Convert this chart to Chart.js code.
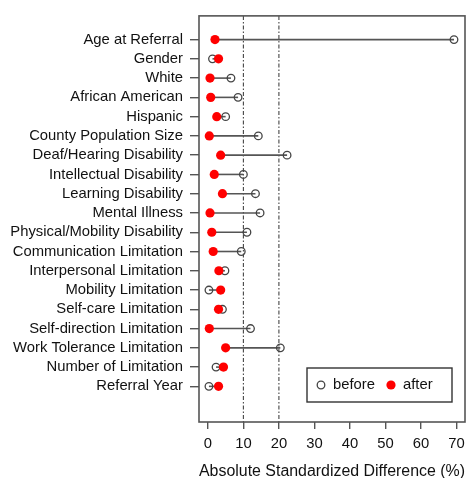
<!DOCTYPE html>
<html>
<head>
<meta charset="utf-8">
<script src="https://cdn.jsdelivr.net/npm/chart.js@4/dist/chart.umd.min.js"></script>
<style>
  html, body { margin: 0; padding: 0; background: #fff; }
  #wrap { width: 471px; height: 478px; }
</style>
</head>
<body>
<div id="wrap"><canvas id="myChart"></canvas></div>
<script>
const categories = [
  'Age at Referral', 'Gender', 'White', 'African American', 'Hispanic',
  'County Population Size', 'Deaf/Hearing Disability', 'Intellectual Disability',
  'Learning Disability', 'Mental Illness', 'Physical/Mobility Disability',
  'Communication Limitation', 'Interpersonal Limitation', 'Mobility Limitation',
  'Self-care Limitation', 'Self-direction Limitation', 'Work Tolerance Limitation',
  'Number of Limitation', 'Referral Year'
];
const beforeVals = [69.3, 1.3, 6.5, 8.5, 5.0, 14.2, 22.3, 10.0, 13.4, 14.7, 11.0, 9.4, 4.8, 0.3, 4.1, 12.0, 20.4, 2.3, 0.3];
const afterVals = [2.0, 3.0, 0.6, 0.8, 2.5, 0.4, 3.6, 1.8, 4.1, 0.6, 1.1, 1.5, 3.1, 3.6, 3.0, 0.4, 5.0, 4.4, 3.0];
const xTicks = [0, 10, 20, 30, 40, 50, 60, 70];
const refLines = [10, 20];

const yMin = -1.23, yMax = 19.85;
const axisColor = '#555';
const textColor = '#111';
const font = 'Liberation Sans, Arial, sans-serif';

const ctx = document.getElementById('myChart').getContext('2d');

const datasets = [];

datasets.push({
  label: 'after',
  type: 'scatter',
  order: 0,
  data: afterVals.map((v, i) => ({ x: v, y: i })),
  pointRadius: 4.6,
  pointBackgroundColor: '#ff0000',
  pointBorderWidth: 0,
  pointHoverRadius: 4.6
});

datasets.push({
  label: 'before',
  type: 'scatter',
  order: 1,
  data: beforeVals.map((v, i) => ({ x: v, y: i })),
  pointRadius: 3.8,
  pointBackgroundColor: 'rgba(0,0,0,0)',
  pointBorderColor: '#444',
  pointBorderWidth: 1.3,
  pointHoverRadius: 3.8
});

// segments joining before and after
categories.forEach((c, i) => {
  datasets.push({
    label: c,
    type: 'line',
    order: 2,
    data: [{ x: beforeVals[i], y: i }, { x: afterVals[i], y: i }],
    borderColor: '#555',
    borderWidth: 1.6,
    pointRadius: 0
  });
});

// dash-dot reference lines
refLines.forEach(r => {
  datasets.push({
    label: 'ref' + r,
    type: 'line',
    order: 3,
    data: [{ x: r, y: yMin }, { x: r, y: yMax }],
    borderColor: '#444',
    borderWidth: 1.1,
    borderDash: [4, 2, 1.5, 2],
    pointRadius: 0
  });
});

const boxPlugin = {
  id: 'box',
  afterDraw(chart) {
    const a = chart.chartArea;
    const c = chart.ctx;
    c.save();
    c.strokeStyle = axisColor;
    c.lineWidth = 1.6;
    c.strokeRect(a.left, a.top, a.right - a.left, a.bottom - a.top);

    // legend box
    const w = 145, h = 34;
    const lx = a.right - 13 - w, ly = a.bottom - 20 - h;
    c.lineWidth = 1.4;
    c.strokeStyle = '#333';
    c.strokeRect(lx, ly, w, h);
    const cy = ly + h / 2;
    c.beginPath();
    c.arc(lx + 14, cy, 3.8, 0, Math.PI * 2);
    c.lineWidth = 1.3;
    c.strokeStyle = '#444';
    c.stroke();
    c.beginPath();
    c.arc(lx + 84, cy, 4.6, 0, Math.PI * 2);
    c.fillStyle = '#ff0000';
    c.fill();
    c.fillStyle = textColor;
    c.font = '14.8px ' + font;
    c.textBaseline = 'middle';
    c.fillText('before', lx + 26, cy);
    c.fillText('after', lx + 96, cy);
    c.restore();
  }
};

const config = {
  type: 'scatter',
  data: { datasets: datasets },
  options: {
    responsive: true,
    maintainAspectRatio: false,
    animation: false,
    layout: { padding: { top: 12, right: 6, left: 0, bottom: 0 } },
    plugins: {
      legend: { display: false },
      tooltip: { enabled: false }
    },
    scales: {
      x: {
        type: 'linear',
        min: -2.5,
        max: 72.4,
        afterBuildTicks: scale => { scale.ticks = xTicks.map(v => ({ value: v })); },
        afterFit: scale => { scale.height = 56; },
        grid: {
          drawOnChartArea: false,
          drawTicks: true,
          tickLength: 7,
          color: axisColor,
          lineWidth: 1.4
        },
        border: { display: false },
        ticks: {
          color: textColor,
          padding: 6,
          maxRotation: 0,
          font: { size: 14.8, family: font }
        },
        title: {
          display: true,
          text: 'Absolute Standardized Difference (%)',
          color: textColor,
          padding: { top: 0, bottom: -2 },
          font: { size: 16, family: font, lineHeight: 1 }
        }
      },
      y: {
        type: 'linear',
        reverse: true,
        min: yMin,
        max: yMax,
        afterBuildTicks: scale => { scale.ticks = categories.map((c, i) => ({ value: i })); },
        afterFit: scale => { scale.width = 199; },
        grid: {
          drawOnChartArea: false,
          drawTicks: true,
          tickLength: 9,
          color: axisColor,
          lineWidth: 1.4
        },
        border: { display: false },
        ticks: {
          color: textColor,
          padding: 7,
          autoSkip: false,
          font: { size: 14.8, family: font },
          callback: v => categories[v]
        }
      }
    }
  },
  plugins: [boxPlugin]
};

const myChart = new Chart(ctx, config);
</script>
</body>
</html>
